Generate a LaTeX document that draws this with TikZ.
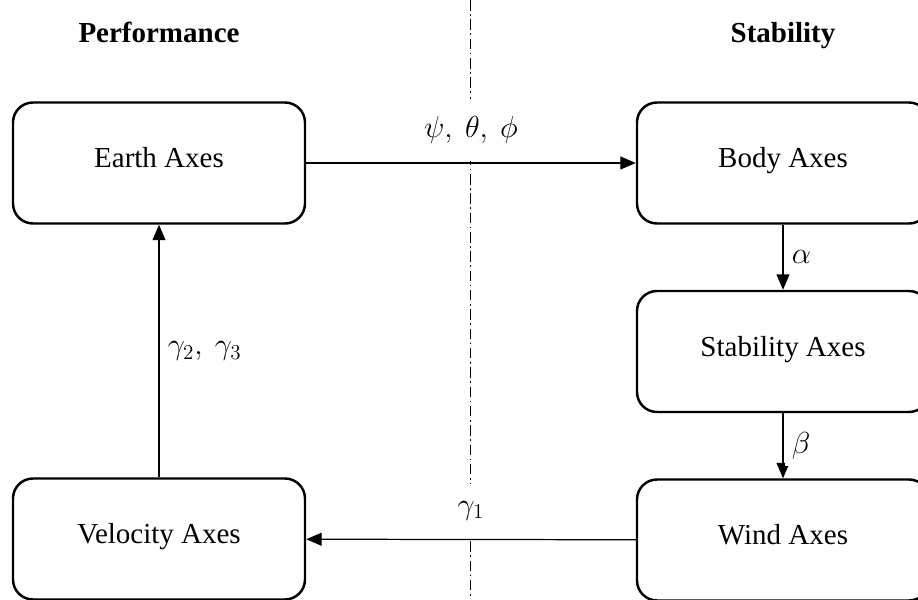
\documentclass[tikz,border=0pt]{standalone}
\usepackage{fontspec}
\setmainfont{Liberation Serif}
\usetikzlibrary{arrows.meta,positioning}

\begin{document}
\begin{tikzpicture}[
		->,
		>={Triangle[length=0.31cm,width=0.26cm]},
		auto,
		line width=0.7pt,
		font=\fontsize{16.5}{20}\selectfont,
		node distance=3.77cm,
		axes node/.style={rectangle,rounded corners=0.4cm,minimum width=5.84cm,minimum height=2.42cm,text height=1.5ex,text depth=0.3ex,draw,line width=1.4pt,fill=white},
		title node/.style={font=\fontsize{16.5}{20}\selectfont\bfseries,text height=1.5ex,text depth=0.3ex},
		angle label/.style={fill=white,inner sep=4pt,outer sep=1pt},
		cross label/.style={fill=white,inner sep=10pt,outer sep=1pt}]

	\useasboundingbox (0,0) rectangle (18.36,11.98);

	\coordinate (top) at (9.4,11.98);
	\coordinate (bottom) at (9.4,0);
	\draw[-,line width=0.5pt,dash pattern=on 6pt off 2pt on 1pt off 2pt] (top) -- (bottom);

	\node[axes node] (earth) at (3.18,8.72) {Earth Axes};
	\node[axes node] (body) [right of=earth, node distance=12.48cm] {Body Axes};
	\node[axes node] (stab) [below of=body] {Stability Axes};
	\node[axes node] (wind) [below of=stab] {Wind Axes};
	\node[axes node] (velo) [below of=earth, node distance=7.52cm] {Velocity Axes};

	\node[title node] (perf) [above of=earth, node distance=2.5cm] {Performance};
	\node[title node] (stabtitle) [above of=body, node distance=2.5cm] {Stability};

	\path
		(earth) edge node[cross label] {$\psi,\ \theta,\ \phi$} (body)
		(body) edge node[angle label] {$\alpha$} (stab)
		(stab) edge node[angle label] {$\beta$} (wind)
		(wind) edge node[cross label,swap] {$\gamma_1$} (velo)
		(velo) edge node[angle label,swap] {$\gamma_2,\ \gamma_3$} (earth)
	;
\end{tikzpicture}
\end{document}
